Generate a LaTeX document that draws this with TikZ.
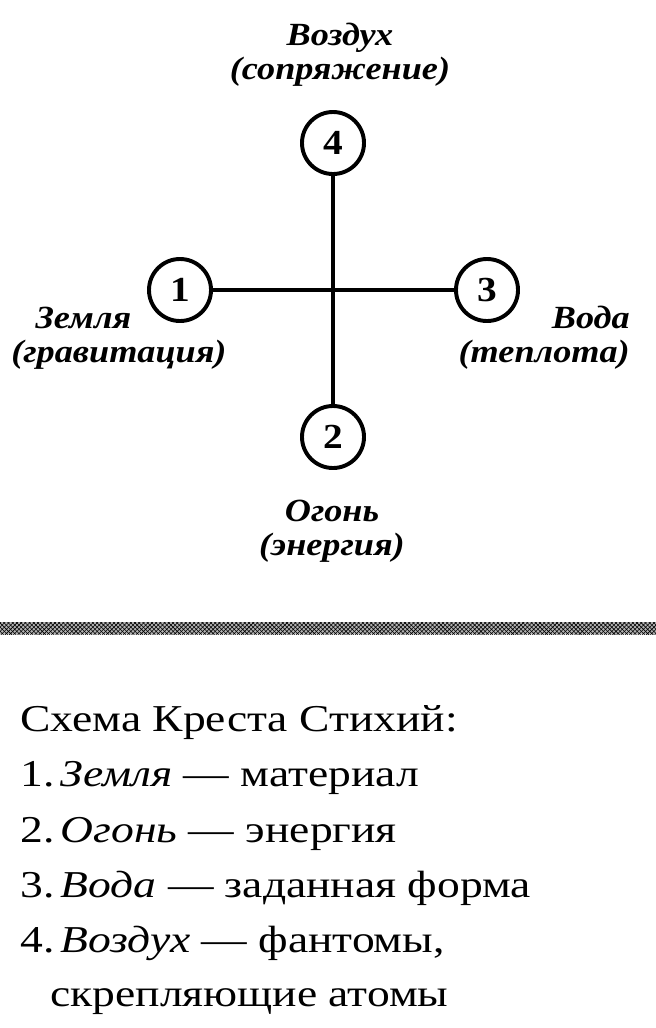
\documentclass[tikz,border=0pt]{standalone}
\usepackage{fontspec}
\setmainfont{Liberation Serif}
\newfontfamily\handfont[FakeStretch=1.12]{Liberation Serif}
\newfontfamily\captionfont[FakeStretch=1.2]{Liberation Serif}
\usetikzlibrary{patterns}

\begin{document}
\begin{tikzpicture}[x=0.025cm, y=-0.025cm,
    element/.style={circle, draw, line width=2.8pt, minimum size=1.55cm, inner sep=0pt, font=\fontsize{25}{25}\handfont\bfseries},
    hand/.style={align=center, inner sep=0pt, font=\fontsize{23}{24}\handfont\bfseries\itshape},
    bond/.style={line width=2.8pt},
    caption/.style={anchor=base west, inner sep=0pt, font=\fontsize{27}{27}\captionfont}]
    \useasboundingbox (0,0) rectangle (656,1028);

    % Define the circles of the cross
    \node[element] (earth) at (180,290) {1};
    \node[element] (fire) at (333,437) {2};
    \node[element] (water) at (487,290) {3};
    \node[element] (air) at (333,143) {4};

    % Draw the cross
    \draw[bond] (earth) -- (water);
    \draw[bond] (air) -- (fire);

    % Place the labels of the elements
    \node[hand] (airlabel) at (340,55) {Воздух\\(сопряжение)};
    \node[hand, align=left, anchor=west] (earthlabel) at (11,338) {\hspace*{0.75em}Земля\\(гравитация)};
    \node[hand, align=right, anchor=east] (waterlabel) at (630,338) {Вода\\(теплота)};
    \node[hand] (firelabel) at (332,531) {Огонь\\(энергия)};

    % Draw the separator band
    \fill[black!30] (0,622) rectangle (656,634);
    \fill[pattern=crosshatch] (0,622) rectangle (656,634);

    % Place the caption lines
    \node[caption] (title) at (20,731) {Схема Креста Стихий:};
    \node[caption] (line1) at (20,786) {1.\,\textit{Земля} — материал};
    \node[caption] (line2) at (20,842) {2.\,\textit{Огонь} — энергия};
    \node[caption] (line3) at (20,897) {3.\,\textit{Вода} — заданная форма};
    \node[caption] (line4) at (20,952) {4.\,\textit{Воздух} — фантомы,};
    \node[caption] (line5) at (50,1006) {скрепляющие атомы};

\end{tikzpicture}
\end{document}
